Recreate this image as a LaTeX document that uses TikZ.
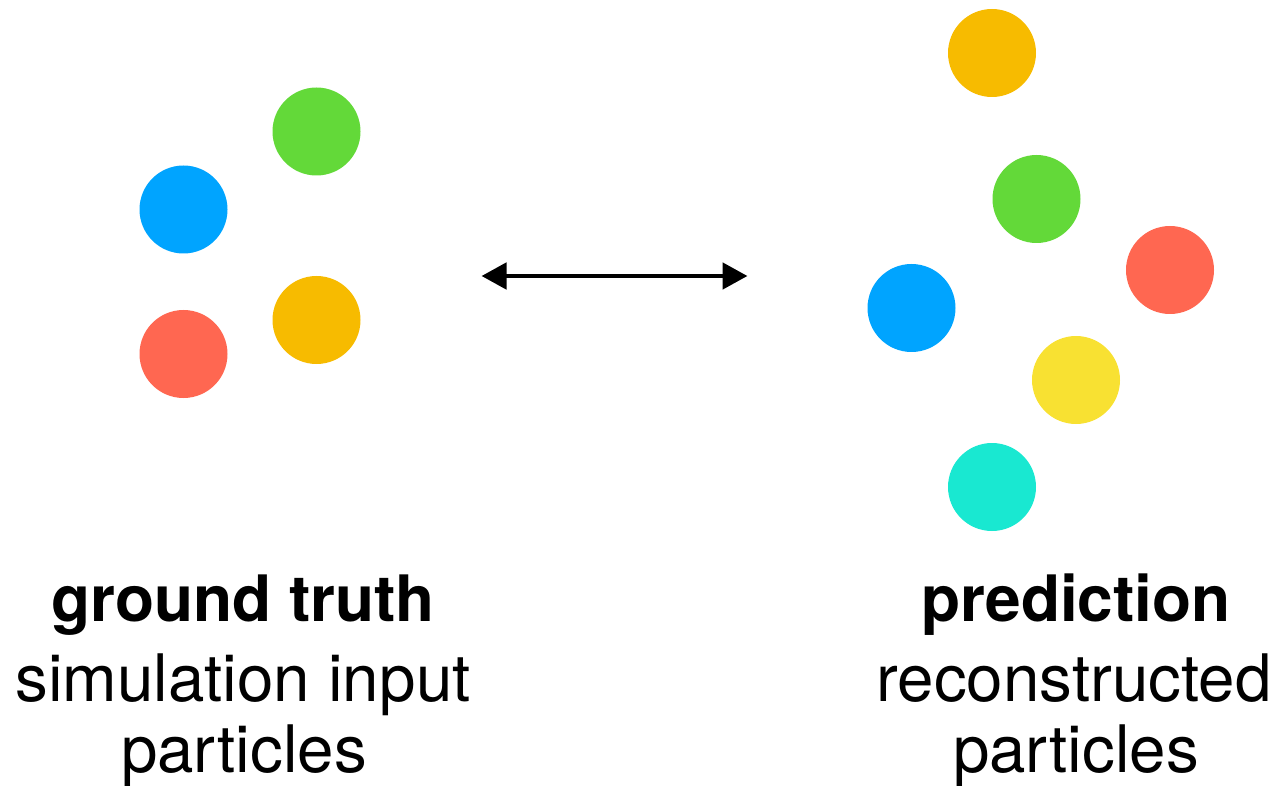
\documentclass[tikz,border=0pt]{standalone}
\usepackage{fontspec}
\setmainfont{TeX Gyre Heros}
\usetikzlibrary{arrows.meta}

\definecolor{pgreen}{HTML}{63D939}
\definecolor{pblue}{HTML}{00A4FF}
\definecolor{porange}{HTML}{F7BB00}
\definecolor{pred}{HTML}{FF6751}
\definecolor{pyellow}{HTML}{F8E132}
\definecolor{pcyan}{HTML}{19E8D1}

\tikzset{
  particle/.style={circle, fill=#1, draw=none, minimum size=88pt, inner sep=0pt},
  caption/.style={anchor=base, inner sep=0pt, font=\fontsize{65.5}{72}\selectfont},
  captionbold/.style={caption, font=\fontsize{64}{72}\selectfont\bfseries},
  match/.style={draw=black, line width=4.8pt,
    {Triangle[length=25pt,width=26pt]}-{Triangle[length=25pt,width=26pt]}}
}

\begin{document}
\begin{tikzpicture}[x=1pt, y=-1pt]
  \useasboundingbox (0,0) rectangle (1280,786);

  % ground-truth particles
  \node[particle=pgreen]  (gtgreen)  at (316.5,131.5) {};
  \node[particle=pblue]   (gtblue)   at (183.5,209.5) {};
  \node[particle=porange] (gtorange) at (316.5,320)   {};
  \node[particle=pred]    (gtred)    at (183.5,354)   {};

  % reconstructed particles
  \node[particle=porange] (rcorange) at (992,53)    {};
  \node[particle=pgreen]  (rcgreen)  at (1036.5,199) {};
  \node[particle=pred]    (rcred)    at (1170,270)  {};
  \node[particle=pblue]   (rcblue)   at (911.5,308) {};
  \node[particle=pyellow] (rcyellow) at (1076,380)  {};
  \node[particle=pcyan]   (rccyan)   at (992,487)   {};

  % comparison arrow
  \coordinate (arrowl) at (481.5,276);
  \coordinate (arrowr) at (747.5,276);
  \draw[match] (arrowl) -- (arrowr);

  % captions
  \node[captionbold] (gttitle) at (243,621) {ground truth};
  \node[caption]     (gtline1) at (243,701) {simulation input};
  \node[caption]     (gtline2) at (244,772) {particles};

  \node[captionbold] (rctitle) at (1076,621) {prediction};
  \node[caption]     (rcline1) at (1074,701) {reconstructed};
  \node[caption]     (rcline2) at (1076,772) {particles};
\end{tikzpicture}
\end{document}
